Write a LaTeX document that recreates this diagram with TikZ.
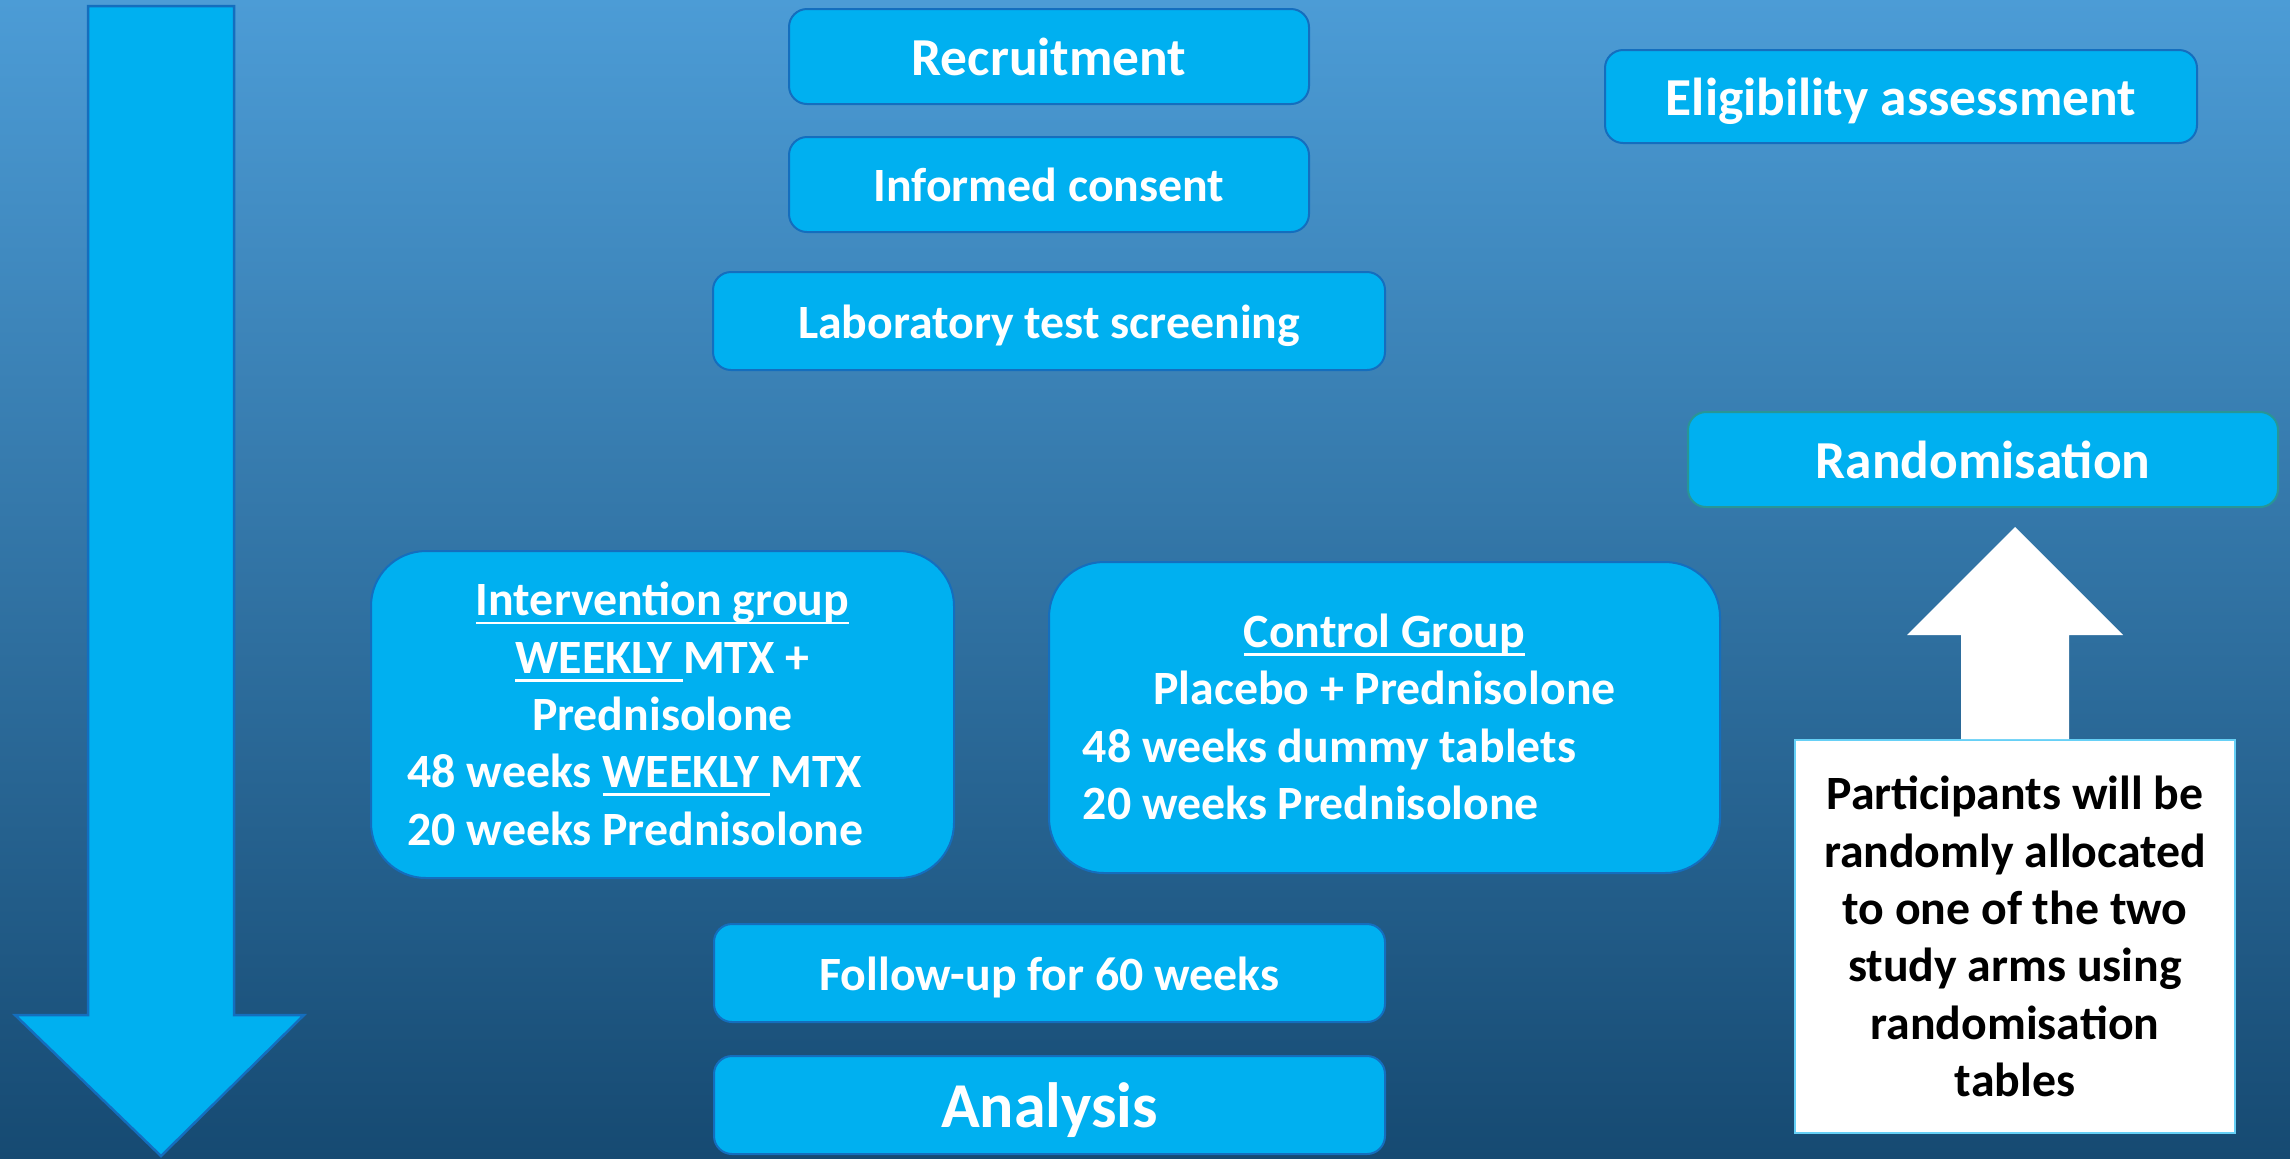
\documentclass[tikz,border=0pt]{standalone}
\usepackage{fontspec}
\setmainfont{Carlito}
\usepackage{xcolor}
\usepackage{tikz}
\definecolor{boxblue}{RGB}{0, 176, 240}
\definecolor{edgeblue}{RGB}{20, 110, 190}
\definecolor{randedge}{RGB}{40, 150, 150}
\definecolor{bgtop}{RGB}{76, 156, 214}
\definecolor{bgmid}{RGB}{40, 120, 183}
\definecolor{bgbottom}{RGB}{22, 74, 114}
\usetikzlibrary{positioning, calc}
\newcommand{\uln}[1]{\setbox0\hbox{#1}\rlap{\rule[-2.4pt]{\wd0}{0.8pt}}\box0}

\begin{document}
\begin{tikzpicture}[
    x=0.1mm, y=-0.1mm,
    stagebox/.style={rectangle, draw=edgeblue, fill=boxblue, rounded corners=1.8mm, line width=0.2mm, text=white, inner sep=0pt, align=center, font=\bfseries\fontsize{13.6}{16.3}\selectfont},
    oneline/.style={text height=9.7pt, text depth=0pt},
    armbox/.style={stagebox, rounded corners=5.5mm},
    bigtext/.style={font=\bfseries\fontsize{15.2}{18}\selectfont, text height=10.8pt},
]
    \useasboundingbox (0,0) rectangle (2290,1158);
    \shade[top color=bgtop, middle color=bgmid, bottom color=bgbottom] (0,0) rectangle (2290,1158);

    % Timeline arrow
    \draw[draw=edgeblue, fill=boxblue, line width=0.25mm]
        (88,6) -- (234,6) -- (234,1015) -- (304,1015) -- (161,1156) -- (15,1015) -- (88,1015) -- cycle;

    % Enrolment
    \node[stagebox, oneline, bigtext, minimum width=52mm, minimum height=9.5mm] (recruit) at (1049,56.5) {Recruitment};
    \node[stagebox, oneline, minimum width=52mm, minimum height=9.5mm] (consent) at (1049,184.5) {Informed consent};
    \node[stagebox, oneline, minimum width=67.2mm, minimum height=9.8mm] (lab) at (1049,321) {Laboratory test screening};
    \node[stagebox, oneline, bigtext, minimum width=59.2mm, minimum height=9.3mm] (elig) at (1901,96.5) {Eligibility assessment};

    % Randomisation
    \node[stagebox, oneline, bigtext, draw=randedge, minimum width=59mm, minimum height=9.5mm] (random) at (1983,459.5) {Randomisation};

    % Study arms
    \node[armbox, minimum width=58.3mm, minimum height=32.7mm] (interv) at (662.5,714.5) {
        \rule{0pt}{14pt}\uln{Intervention group}\\
        \uln{WEEKLY\ }MTX +\\
        Prednisolone\\
        \begin{tabular}[t]{@{}l@{}}48 weeks \uln{WEEKLY\ }MTX\\20 weeks Prednisolone\end{tabular}\hspace*{5.4mm}
    };
    \node[armbox, minimum width=67.1mm, minimum height=31.1mm] (control) at (1384.5,717.5) {
        \rule{0pt}{14pt}\uln{Control Group}\\
        Placebo + Prednisolone\\
        \begin{tabular}[t]{@{}l@{}}48 weeks dummy tablets\\20 weeks Prednisolone\end{tabular}\hspace*{11mm}
    };

    % Follow-up and analysis
    \node[stagebox, oneline, minimum width=67.1mm, minimum height=9.8mm] (follow) at (1049.5,973) {Follow-up for 60 weeks};
    \node[stagebox, oneline, minimum width=67.1mm, minimum height=9.8mm, font=\bfseries\fontsize{18.2}{21}\selectfont, text height=12.9pt] (analysis) at (1049.5,1105) {Analysis};

    % Allocation note
    \node[stagebox, draw=boxblue!60, fill=white, text=black, rounded corners=0pt, minimum width=44mm, minimum height=39.3mm] (note) at (2015,936.5) {
        Participants will be\\
        randomly allocated\\
        to one of the two\\
        study arms using\\
        randomisation\\
        tables
    };
    \fill[white] ($(note.north)+(-54,0)$) -- ++(0,-104) -- ++(-54,0) -- ++(108,-108) -- ++(108,108) -- ++(-54,0) -- ++(0,104) -- cycle;

\end{tikzpicture}
\end{document}
